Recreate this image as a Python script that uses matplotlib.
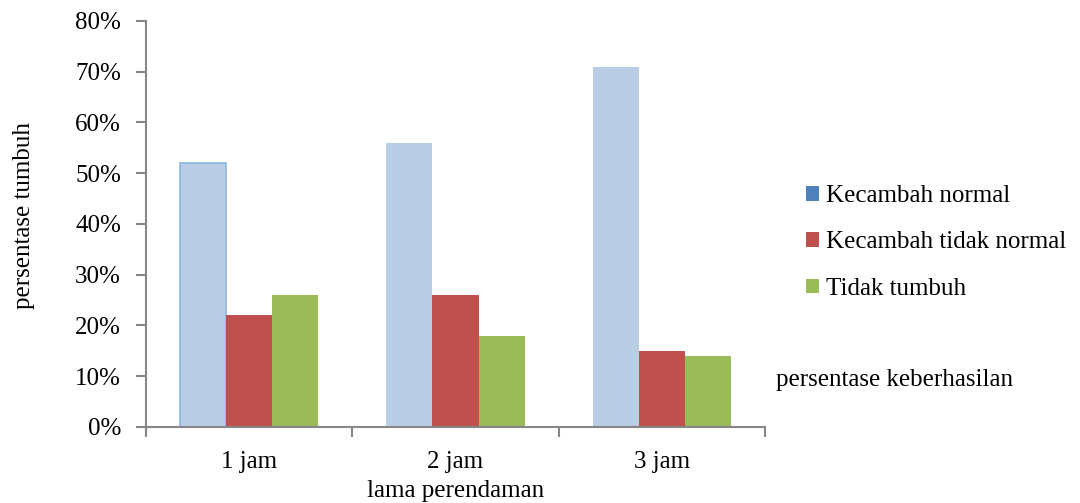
import matplotlib
matplotlib.use('Agg')
import matplotlib.pyplot as plt
from matplotlib.patches import Patch
from matplotlib.ticker import PercentFormatter
import numpy as np

plt.rcParams['font.family'] = ['Liberation Serif', 'DejaVu Serif']

# Data
categories = ['1 jam', '2 jam', '3 jam']
normal = [52, 56, 71]
tidak_normal = [22, 26, 15]
tidak_tumbuh = [26, 18, 14]
series_names = ['Kecambah normal', 'Kecambah tidak normal', 'Tidak tumbuh']

bar_fill = ['#B9CDE5', '#C0504D', '#9BBB59']
legend_fill = ['#4F81BD', '#C0504D', '#9BBB59']
axis_col = '#868686'
FS = 18

fig = plt.figure(figsize=(10.8, 5.03), dpi=100)
ax = fig.add_axes([0.1352, 0.1511, 0.5731, 0.8072])

x = np.arange(len(categories))
w = 0.2233
bars_n = ax.bar(x - w, normal, w, color=bar_fill[0], zorder=2)
bars_t = ax.bar(x, tidak_normal, w, color=bar_fill[1], zorder=2)
bars_g = ax.bar(x + w, tidak_tumbuh, w, color=bar_fill[2], zorder=2)
# first bar has an outline
bars_n[0].set_edgecolor('#8EB4E3')
bars_n[0].set_linewidth(1.2)

ax.set_xlim(-0.5, len(categories) - 0.5)
ax.set_ylim(0, 80)
ax.set_yticks(np.arange(0, 81, 10))
ax.yaxis.set_major_formatter(PercentFormatter(decimals=0))

# category boundaries as tick marks, labels at the centres
ax.set_xticks(np.arange(-0.5, len(categories), 1))
ax.set_xticklabels([])
ax.set_xticks(x, minor=True)
ax.set_xticklabels(categories, minor=True)
ax.tick_params(axis='x', which='minor', length=0, pad=17, labelsize=FS)
ax.tick_params(axis='x', which='major', length=7, width=1.5, color=axis_col)
ax.tick_params(axis='y', length=7, width=1.5, color=axis_col, labelsize=FS, pad=11)

for s in ['top', 'right']:
    ax.spines[s].set_visible(False)
for s in ['left', 'bottom']:
    ax.spines[s].set_color(axis_col)
    ax.spines[s].set_linewidth(1.5)

ax.set_xlabel('lama perendaman', fontsize=FS, labelpad=5)
ax.set_ylabel('persentase tumbuh', fontsize=FS)
ax.yaxis.set_label_coords(-0.179, 0.52)

handles = [Patch(facecolor=c, edgecolor='none') for c in legend_fill]
fig.legend(handles, series_names, loc='center left', bbox_to_anchor=(0.725, 0.518),
           frameon=False, fontsize=FS, handlelength=0.52, handleheight=0.52,
           handletextpad=0.32, labelspacing=0.97)

fig.text(0.7185, 0.2445, 'persentase keberhasilan', fontsize=FS, va='center')

fig.savefig('out.png', dpi=100)
